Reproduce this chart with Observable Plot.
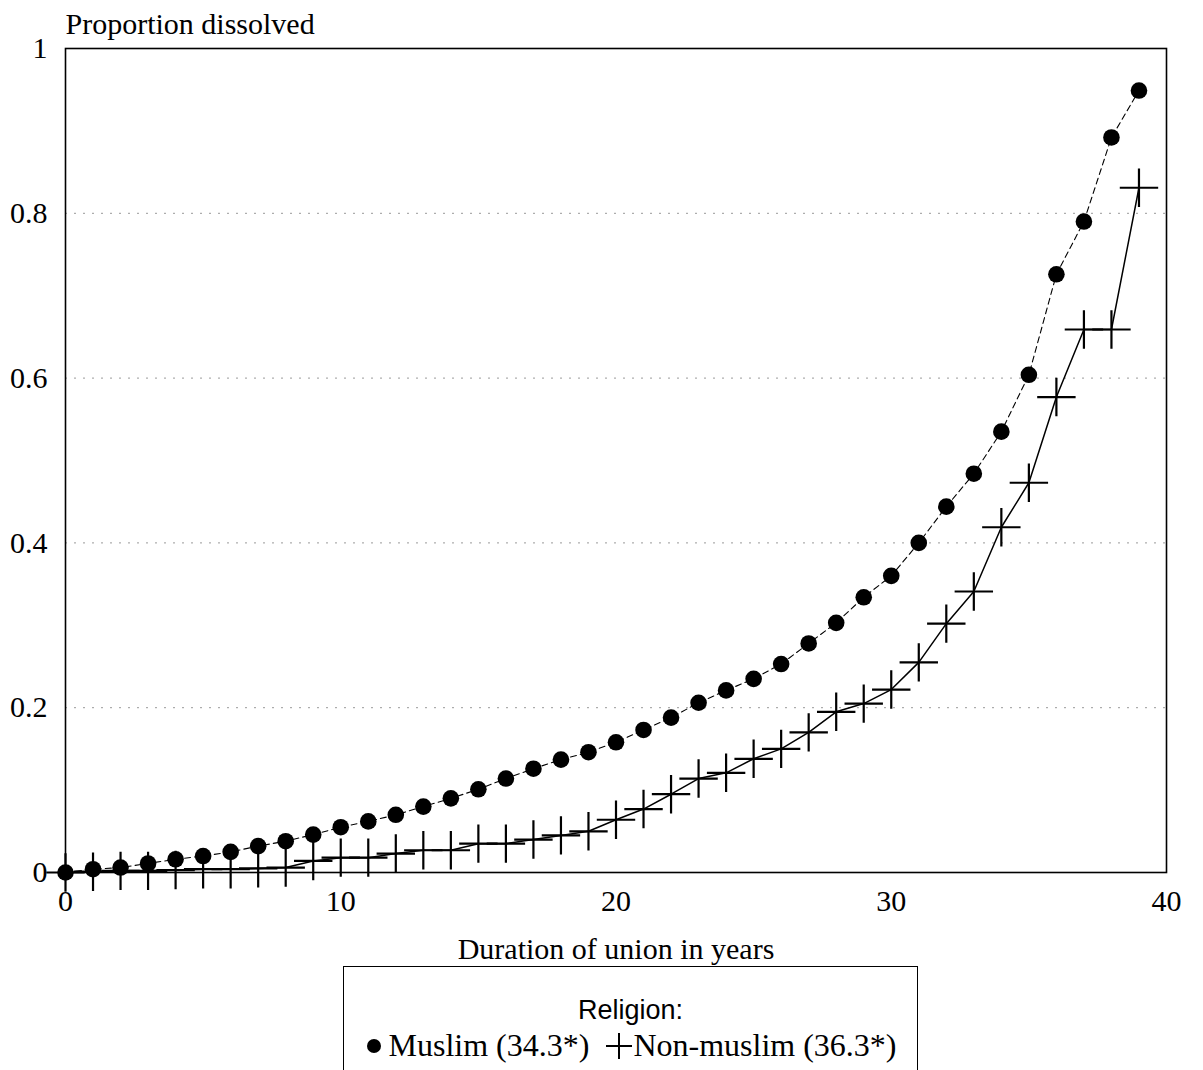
<!DOCTYPE html>
<html>
<head>
<meta charset="utf-8">
<script src="https://cdn.jsdelivr.net/npm/d3@7"></script>
<script src="https://cdn.jsdelivr.net/npm/@observablehq/plot@0.6"></script>
<style>
  html, body { margin: 0; padding: 0; background: #fff; }
  #chart { position: absolute; left: 0; top: 0; }
  #legend {
    position: absolute; left: 343px; top: 966px; width: 575px; height: 120px;
    border: 1.5px solid #000; border-bottom: none; box-sizing: border-box;
    text-align: center; color: #000;
  }
  #legend .title { font-family: "Liberation Sans", Arial, sans-serif; font-size: 27px; margin-top: 28px; line-height: 30px; }
  #legend .items { font-family: "Liberation Serif", "Times New Roman", serif; font-size: 32px; line-height: 36px; margin-top: 2px; white-space: nowrap; }
  #legend svg { vertical-align: middle; }
</style>
</head>
<body>
<div id="chart"></div>
<div id="legend">
  <div class="title">Religion:</div>
  <div class="items"><svg width="18" height="18" style="margin-right:6px;margin-top:-6px"><circle cx="9" cy="9" r="7" fill="#000"/></svg>Muslim (34.3*)&nbsp;&nbsp;<svg width="28" height="28" style="margin-top:-6px"><path d="M1,14H27M14,1V27" stroke="#000" stroke-width="2"/></svg>Non-muslim (36.3*)</div>
</div>
<script>
const years = [0,1,2,3,4,5,6,7,8,9,10,11,12,13,14,15,16,17,18,19,20,21,22,23,24,25,26,27,28,29,30,31,32,33,34,35,36,37,38,39];
const muslim = [0.000,0.004,0.006,0.011,0.016,0.020,0.025,0.032,0.038,0.046,0.055,0.062,0.070,0.080,0.090,0.101,0.114,0.126,0.137,0.146,0.158,0.173,0.188,0.206,0.221,0.235,0.253,0.278,0.303,0.334,0.360,0.400,0.444,0.484,0.535,0.604,0.726,0.790,0.892,0.949];
const nonMuslim = [0.000,0.001,0.002,0.002,0.003,0.004,0.004,0.005,0.006,0.014,0.018,0.018,0.023,0.027,0.027,0.035,0.035,0.040,0.045,0.050,0.064,0.077,0.095,0.114,0.121,0.138,0.150,0.170,0.195,0.205,0.222,0.255,0.302,0.341,0.419,0.473,0.577,0.659,0.659,0.831];
const xTicks = [0,10,20,30,40];
const yTicks = [0,0.2,0.4,0.6,0.8,1];
const gridTicks = [0.2,0.4,0.6,0.8];
const yLabel = "Proportion dissolved";
const xLabel = "Duration of union in years";

const rows = years.map((x, i) => ({x, muslim: muslim[i], nonMuslim: nonMuslim[i]}));

const chart = Plot.plot({
  width: 1203,
  height: 966,
  marginLeft: 65,
  marginRight: 37,
  marginTop: 48,
  marginBottom: 94,
  style: {fontFamily: "'Liberation Serif', 'Times New Roman', serif", fontSize: "30px", color: "#000", background: "#fff", overflow: "visible"},
  x: {domain: [0, 40]},
  y: {domain: [0, 1]},
  marks: [
    Plot.ruleY(gridTicks, {stroke: "#999", strokeWidth: 1, strokeDasharray: "2,7"}),
    Plot.frame({stroke: "#000", strokeWidth: 1.6}),
    Plot.axisY(yTicks, {tickSize: 0, tickPadding: 18, fontSize: 30, tickFormat: d => String(d), label: null}),
    Plot.text([yLabel], {frameAnchor: "top-left", textAnchor: "start", lineAnchor: "bottom", dy: -15, fontSize: 30}),
    Plot.axisX(xTicks, {tickSize: 0, tickPadding: 17, fontSize: 30, tickFormat: d => String(d),
      label: xLabel, labelAnchor: "center", labelArrow: "none", labelOffset: 86}),
    Plot.line(rows, {x: "x", y: "muslim", stroke: "#000", strokeWidth: 1.1, strokeDasharray: "6,4"}),
    Plot.line(rows, {x: "x", y: "nonMuslim", stroke: "#000", strokeWidth: 1.5}),
    Plot.dot(rows, {x: "x", y: "muslim", r: 8.3, fill: "#000", stroke: "none"}),
    Plot.dot(rows, {x: "x", y: "nonMuslim", symbol: "plus", r: 12.4, stroke: "#000", strokeWidth: 2.2, fill: "none"})
  ]
});
document.getElementById("chart").appendChild(chart);
</script>
</body>
</html>
